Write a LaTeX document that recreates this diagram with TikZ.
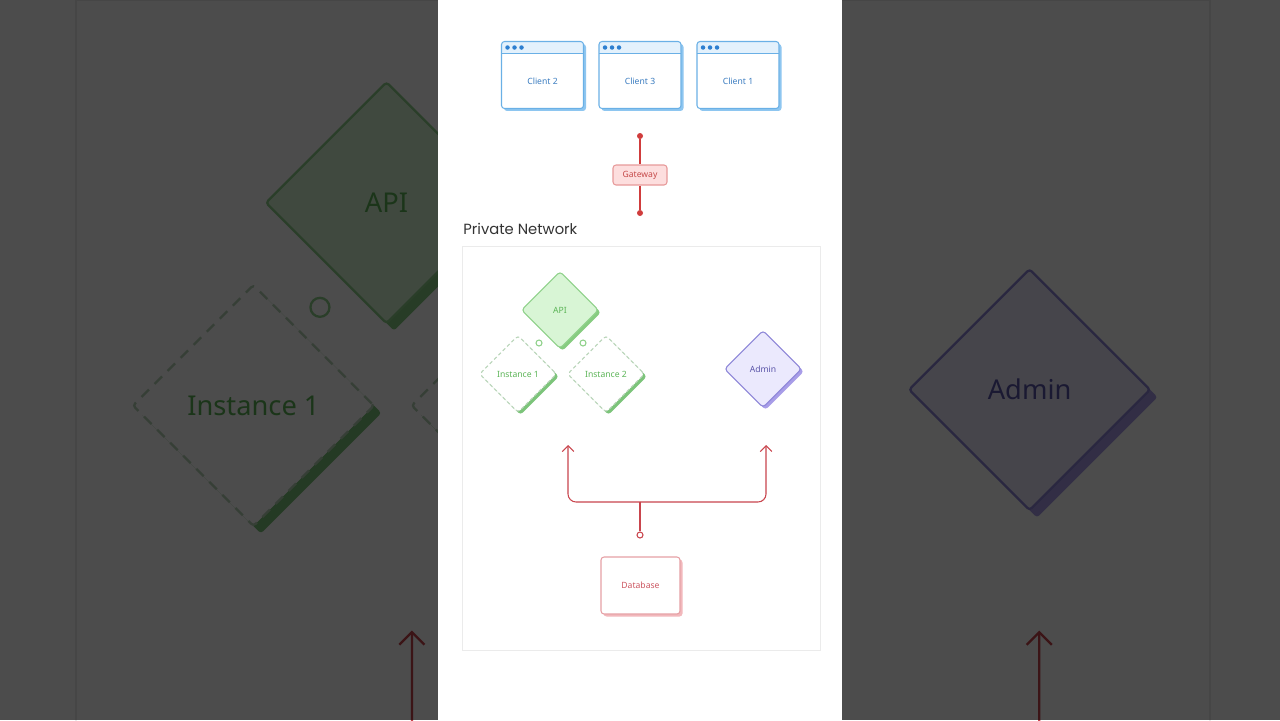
\documentclass[tikz,border=0pt]{standalone}
\usepackage{fontspec}
\setmainfont{Noto Sans}
\newfontfamily\titlefont{Poppins}
\usetikzlibrary{arrows.meta,shapes.geometric}
\definecolor{clientline}{HTML}{6AB0E6}
\definecolor{clientshade}{HTML}{8EC6F0}
\definecolor{clienthead}{HTML}{E3F1FC}
\definecolor{clientdot}{HTML}{2D7FD0}
\definecolor{clienttext}{HTML}{3A7CC0}
\definecolor{netred}{HTML}{D03C3C}
\definecolor{wirered}{HTML}{C9454D}
\definecolor{gwfill}{HTML}{FDDEDE}
\definecolor{gwline}{HTML}{E79A9A}
\definecolor{gwtext}{HTML}{C64A4A}
\definecolor{apifill}{HTML}{D8F5D5}
\definecolor{apiline}{HTML}{8FD18A}
\definecolor{apishade}{HTML}{86CC80}
\definecolor{apitext}{HTML}{5BB456}
\definecolor{instline}{HTML}{B8D4B8}
\definecolor{instshade}{HTML}{7CC47A}
\definecolor{admfill}{HTML}{EBE9FD}
\definecolor{admline}{HTML}{8D86D8}
\definecolor{admshade}{HTML}{A89DE8}
\definecolor{admtext}{HTML}{5A54A8}
\definecolor{dbline}{HTML}{E6A0A5}
\definecolor{dbshade}{HTML}{F2B8BC}
\definecolor{dbtext}{HTML}{CC5560}
\definecolor{framegray}{HTML}{EBEBEB}
\definecolor{titlegray}{HTML}{333333}
\newcommand\lw{0.6pt}
\newcommand\sh{0.05cm}
\newcommand\dashon{2pt}
\newcommand\dashoff{1.5pt}
\newcommand\lbl{\fontsize{4.9}{5.8}\selectfont}
\tikzset{
  shade/.style={preaction={fill=#1, transform canvas={xshift=\sh, yshift=-\sh}}},
  window/.style={draw=clientline, line width=\lw, fill=white, shade=clientshade,
                 rounded corners=0.06cm, minimum width=1.64cm, minimum height=1.34cm,
                 inner sep=0pt,
                 path picture={
                   \fill[clienthead] (path picture bounding box.north west)
                     rectangle ([yshift=-0.24cm]path picture bounding box.north east);
                   \draw[clientline, line width=\lw]
                     ([yshift=-0.24cm]path picture bounding box.north west) --
                     ([yshift=-0.24cm]path picture bounding box.north east);
                   \foreach \d in {0.12,0.26,0.40}
                     {\fill[clientdot] ([xshift=\d cm, yshift=-0.12cm]path picture bounding box.north west)
                        circle (0.045cm);}
                 }},
  clientlbl/.style={font=\lbl, text=clienttext, yshift=-0.12cm},
  gwbox/.style={draw=gwline, line width=\lw, fill=gwfill, rounded corners=0.06cm,
                minimum width=1.08cm, minimum height=0.4cm, inner sep=0pt,
                text=gwtext, font=\lbl},
  dot/.style={circle, fill=netred, inner sep=0pt, minimum size=0.12cm},
  port/.style={circle, draw=#1, line width=\lw, fill=white, inner sep=0pt, minimum size=0.12cm},
  netwire/.style={draw=netred, line width=\lw},
  feed/.style={draw=wirered, line width=\lw, rounded corners=0.16cm,
               -{Straight Barb[length=0pt 5.5, width=0pt 11]}},
  dia/.style={diamond, aspect=1, minimum size=1.54cm, inner sep=0pt,
              rounded corners=0.06cm, line width=\lw, font=\lbl},
  apidia/.style={dia, draw=apiline, fill=apifill, shade=apishade, text=apitext},
  instdia/.style={dia, draw=instline, fill=white, shade=instshade, text=apitext,
                  dash pattern=on \dashon off \dashoff},
  admdia/.style={dia, draw=admline, fill=admfill, shade=admshade, text=admtext},
  dbbox/.style={draw=dbline, line width=\lw, fill=white, shade=dbshade,
                rounded corners=0.06cm, minimum width=1.58cm, minimum height=1.14cm,
                inner sep=0pt, text=dbtext, font=\lbl},
}
\newcommand\drawclients{%
  \node[window, label={[clientlbl]center:Client 2}] (client2) at (542.5,75) {};
  \node[window, label={[clientlbl]center:Client 3}] (client3) at (640,75) {};
  \node[window, label={[clientlbl]center:Client 1}] (client1) at (738,75) {};

  \node[dot] (gwtop) at (640,136) {};
  \node[dot] (gwbot) at (640,213) {};
  \node[gwbox] (gw) at (640,175) {Gateway};
  \draw[netwire] (gwtop) -- (gw);
  \draw[netwire] (gw) -- (gwbot);

  \node[anchor=west, font=\titlefont\fontsize{8.4}{10}\selectfont, text=titlegray,
        inner sep=0pt] (nettitle) at (463,229) {Private Network};
}
\newcommand\drawnetwork{%
  \draw[framegray, line width=0.6*\lw] (462,246) rectangle (820,650);

  \node[instdia] (inst1) at (518,374) {Instance 1};
  \node[instdia] (inst2) at (606,374) {Instance 2};
  \node[apidia] (api) at (560,310) {API};
  \node[port=apiline] (port1) at (539,343) {};
  \node[port=apiline] (port2) at (583,343) {};
  \node[admdia] (admin) at (763,369) {Admin};

  \coordinate (tgtA) at (568,445);
  \coordinate (tgtB) at (766,445);
  \coordinate (junc) at (640,502);
  \node[port=wirered] (dbport) at (640,535) {};
  \draw[wirered, line width=\lw] (dbport) -- (junc);
  \draw[feed] (junc) -| (tgtA);
  \draw[feed] (junc) -| (tgtB);
}
\newcommand\drawstore{%
  \node[dbbox] (db) at (640.5,585.5) {Database};
}

\begin{document}
\begin{tikzpicture}[x=0.02cm,y=-0.02cm]
  \useasboundingbox (0,0) rectangle (1280,720);
  \begin{scope}
    \clip (0,0) rectangle (1280,720);
    \fill[white] (0,0) rectangle (1280,720);
    \begin{scope}[shift={(-1387.6,-779.3)}, scale=3.168, transform shape, name prefix=bg-]
      \renewcommand\lw{1.3pt}
      \renewcommand\sh{0.15cm}
      \renewcommand\dashon{6pt}
      \renewcommand\dashoff{4.5pt}
      \drawnetwork
    \end{scope}
    \fill[black, opacity=0.7] (0,0) rectangle (1280,720);
  \end{scope}
  \fill[white] (438,0) rectangle (842,720);
  \drawclients
  \drawnetwork
  \drawstore
\end{tikzpicture}
\end{document}
